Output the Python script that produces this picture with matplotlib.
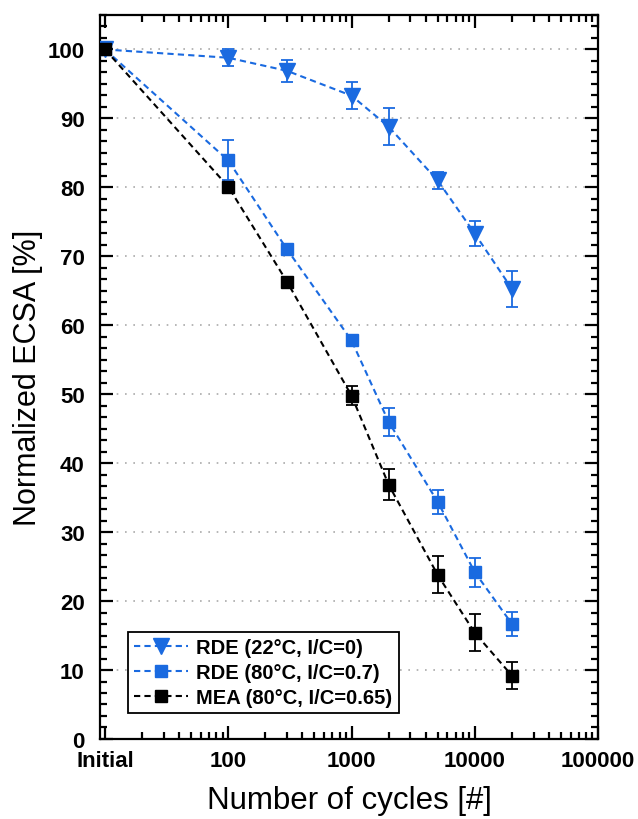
import matplotlib
matplotlib.use("Agg")
import matplotlib.pyplot as plt
from matplotlib.lines import Line2D
from matplotlib.ticker import FixedLocator, LogLocator, AutoMinorLocator, NullFormatter

plt.rcParams['font.family'] = ['Liberation Sans', 'DejaVu Sans']

cycles = [10, 100, 300, 1000, 2000, 5000, 10000, 20000]

rde22 = [100, 98.8, 96.9, 93.3, 88.8, 81.0, 73.3, 65.3]
rde22_err = [0, 1.2, 1.6, 2.0, 2.7, 1.2, 1.8, 2.6]

rde80 = [100, 83.9, 71.0, 57.8, 46.0, 34.4, 24.2, 16.7]
rde80_err = [0, 2.9, 0.5, 0.7, 2.0, 1.7, 2.1, 1.7]

mea80 = [100, 80.1, 66.3, 49.8, 36.9, 23.8, 15.4, 9.2]
mea80_err = [0, 0.4, 0.4, 1.4, 2.2, 2.7, 2.7, 2.0]

labels = ["RDE (22°C, I/C=0)", "RDE (80°C, I/C=0.7)", "MEA (80°C, I/C=0.65)"]

xticks = [10, 100, 1000, 10000, 100000]
xticklabels = ["Initial", "100", "1000", "10000", "100000"]

blue = "#1a6ae0"

fig = plt.figure(figsize=(6.38, 8.2), dpi=100)
ax = fig.add_axes([0.1567, 0.0976, 0.7806, 0.8829])

dash = (0, (3, 2))
styles = [(blue, 'v', 11), (blue, 's', 8.5), ('black', 's', 8.5)]
series = [(rde22, rde22_err), (rde80, rde80_err), (mea80, mea80_err)]

handles = []
for (color, mk, ms), (vals, err), lab in zip(styles, series, labels):
    ax.errorbar(cycles, vals, yerr=err, color=color, marker=mk, markersize=ms,
                linestyle=dash, linewidth=1.5, elinewidth=1.3, capsize=4,
                capthick=1.3, zorder=3)
    handles.append(Line2D([], [], color=color, marker=mk, markersize=ms,
                          linestyle=dash, linewidth=1.5, label=lab))

ax.set_xscale('log')
ax.set_xlim(9.1, 100000)
ax.set_ylim(0, 105)

ax.xaxis.set_major_locator(FixedLocator(xticks))
ax.set_xticklabels(xticklabels)
ax.xaxis.set_minor_locator(LogLocator(base=10, subs=range(2, 10)))
ax.xaxis.set_minor_formatter(NullFormatter())
ax.set_yticks(range(0, 101, 10))
ax.yaxis.set_minor_locator(AutoMinorLocator(6))

ax.yaxis.grid(True, which='major', linestyle=(0, (1, 4)), color='#aaaaaa', linewidth=1.2)
ax.set_axisbelow(True)

ax.tick_params(which='both', direction='in', top=True, right=True, width=1.6)
ax.tick_params(which='major', length=9.5, labelsize=16)
ax.tick_params(axis='y', which='major', pad=11)
ax.tick_params(axis='x', which='major', pad=8)
ax.tick_params(which='minor', length=5)
for lab in ax.get_xticklabels() + ax.get_yticklabels():
    lab.set_fontweight('bold')
for sp in ax.spines.values():
    sp.set_linewidth(1.6)

ax.set_xlabel("Number of cycles [#]", fontsize=22.5, labelpad=10)
ax.set_ylabel("Normalized ECSA [%]", fontsize=22, labelpad=3)

leg = ax.legend(handles=handles, loc='lower left', bbox_to_anchor=(0.056, 0.036),
                fancybox=False, edgecolor='black', framealpha=1, handlelength=2.7,
                handletextpad=0.4, borderpad=0.3, labelspacing=0.3, borderaxespad=0,
                prop={'weight': 'bold', 'size': 14.5})
leg.get_frame().set_linewidth(1.3)

fig.savefig("out.png", dpi=100)
